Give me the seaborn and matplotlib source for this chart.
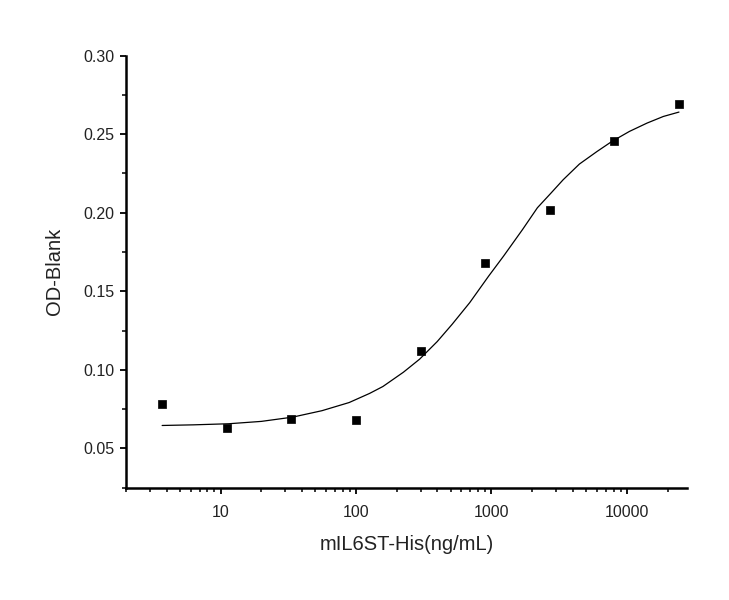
import numpy as np
import pandas as pd
import matplotlib
matplotlib.use("Agg")
import matplotlib.pyplot as plt
import matplotlib.ticker as mticker
import seaborn as sns

# measured points (3-fold dilution series)
conc = [3.7, 11.1, 33.3, 100, 300, 900, 2700, 8100, 24300]
od = [0.078, 0.063, 0.069, 0.068, 0.112, 0.168, 0.202, 0.246, 0.269]

# fitted curve
curve_conc = [3.7, 6.3, 11.5, 20, 34, 56, 89, 126, 158, 224, 295, 398, 513, 692,
              955, 1230, 1698, 2188, 2754, 3388, 4467, 6026, 7762, 10471,
              14125, 18621, 24300]
curve_od = [0.0646, 0.0650, 0.0657, 0.0672, 0.0699, 0.0740, 0.0792, 0.0850,
            0.0894, 0.0985, 0.1068, 0.1180, 0.1290, 0.1428, 0.1597, 0.1724,
            0.1893, 0.2032, 0.2125, 0.2210, 0.2310, 0.2390, 0.2454, 0.2518,
            0.2571, 0.2613, 0.2641]

x_label = "mIL6ST-His(ng/mL)"
y_label = "OD-Blank"

sns.set_style("ticks")
plt.rcParams['font.family'] = ['Liberation Sans', 'DejaVu Sans']

points = pd.DataFrame({"conc": conc, "od": od})
curve = pd.DataFrame({"conc": curve_conc, "od": curve_od})

fig = plt.figure(figsize=(7.29, 6.0), dpi=100)
ax = fig.add_axes([0.1728, 0.1872, 0.770, 0.720])

sns.lineplot(data=curve, x="conc", y="od", color="black", linewidth=0.9, ax=ax)
sns.scatterplot(data=points, x="conc", y="od", marker="s", color="black",
                s=26, edgecolor="black", linewidth=0.5, ax=ax, zorder=3)

ax.set_xscale("log")
ax.set_xlim(2, 28000)
ax.set_ylim(0.025, 0.30)

ax.xaxis.set_major_locator(mticker.LogLocator(base=10, numticks=10))
ax.xaxis.set_minor_locator(mticker.LogLocator(base=10, subs=np.arange(2, 10), numticks=20))
ax.xaxis.set_major_formatter(mticker.FuncFormatter(lambda v, p: f"{v:g}"))
ax.xaxis.set_minor_formatter(mticker.NullFormatter())
ax.yaxis.set_major_locator(mticker.MultipleLocator(0.05))
ax.yaxis.set_minor_locator(mticker.MultipleLocator(0.025))
ax.yaxis.set_major_formatter(mticker.FormatStrFormatter("%.2f"))

sns.despine(ax=ax)
for side in ["left", "bottom"]:
    ax.spines[side].set_linewidth(1.8)
    ax.spines[side].set_color("black")

ax.tick_params(which="major", length=4.5, width=1.3, labelsize=11.5,
               colors="black", labelcolor="#222222", pad=4)
ax.tick_params(which="minor", length=2.6, width=1.1, colors="black")
ax.tick_params(axis="x", which="major", pad=8)

ax.set_xlabel(x_label, fontsize=14.5, color="#222222", labelpad=11)
ax.set_ylabel(y_label, fontsize=14.5, color="#222222", labelpad=14)

fig.savefig("out.png", dpi=100, facecolor="white")
